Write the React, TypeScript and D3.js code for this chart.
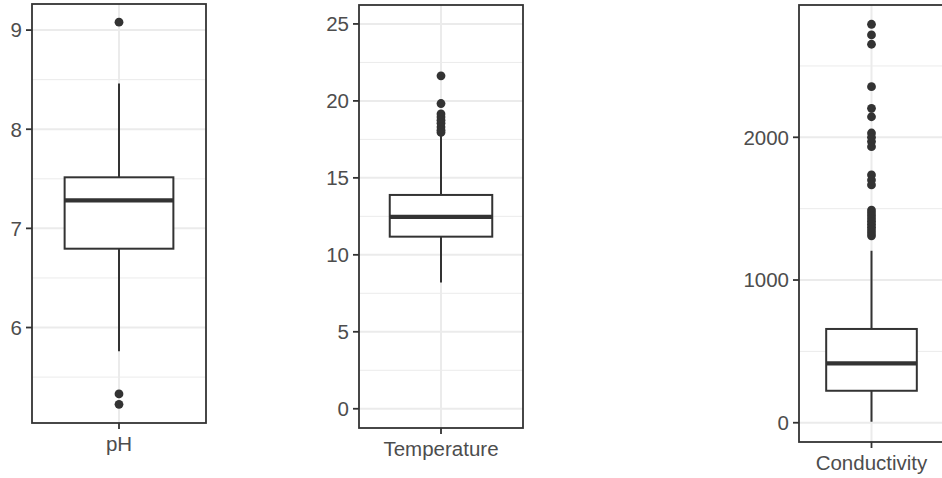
import React from "react";
import * as d3 from "d3";

// Variable names shown under each panel
const variables = ["pH", "Temperature", "Conductivity"];

// Five-number box summaries: [lower whisker, Q1, median, Q3, upper whisker]
const phStats = [5.76, 6.795, 7.283, 7.515, 8.46];
const temperatureStats = [8.2, 11.18, 12.46, 13.89, 17.75];
const conductivityStats = [7, 224, 416, 657, 1205];

// Outlying observations
const phOutliers = [9.08, 5.33, 5.225];
const temperatureOutliers = [21.63, 19.83, 19.15, 18.95, 18.75, 18.55, 18.3, 18.1, 17.95];
const conductivityOutliers = [
  2792, 2717, 2652, 2355, 2203, 2144, 2030, 2000, 1970, 1934, 1736, 1700, 1666,
  1490, 1470, 1450, 1430, 1410, 1390, 1370, 1350, 1330, 1310,
];

// Axis ticks
const phTicks = [6, 7, 8, 9];
const phMinor = [5.5, 6.5, 7.5, 8.5];
const temperatureTicks = [0, 5, 10, 15, 20, 25];
const temperatureMinor = [2.5, 7.5, 12.5, 17.5, 22.5];
const conductivityTicks = [0, 1000, 2000];
const conductivityMinor = [500, 1500, 2500];

type PanelSpec = {
  name: string;
  stats: number[];
  outliers: number[];
  ticks: number[];
  minor: number[];
  domain: [number, number];
  x0: number;
  x1: number;
  y0: number;
  y1: number;
};

const panels: PanelSpec[] = [
  { name: variables[0], stats: phStats, outliers: phOutliers, ticks: phTicks, minor: phMinor,
    domain: [5.037, 9.263], x0: 32, x1: 206, y0: 4, y1: 423 },
  { name: variables[1], stats: temperatureStats, outliers: temperatureOutliers, ticks: temperatureTicks,
    minor: temperatureMinor, domain: [-1.25, 26.23], x0: 359, x1: 523, y0: 5, y1: 428 },
  { name: variables[2], stats: conductivityStats, outliers: conductivityOutliers, ticks: conductivityTicks,
    minor: conductivityMinor, domain: [-135, 2927], x0: 799, x1: 944, y0: 5, y1: 442 },
];

const INK = "#333333";
const GRID = "#EBEBEB";
const LABEL = "#4D4D4D";
const FONT = "'Liberation Sans', Arial, sans-serif";

function Panel({ p }: { p: PanelSpec }) {
  const y = d3.scaleLinear().domain(p.domain).range([p.y1, p.y0]);
  // discrete axis with 0.6 expansion each side; boxes are 0.75 units wide
  const x = d3.scaleLinear().domain([0.4, 1.6]).range([p.x0, p.x1]);
  const span = p.x1 - p.x0;
  const cx = x(1);
  const left = x(1 - 0.375);
  const right = x(1 + 0.375);
  const [lo, q1, med, q3, hi] = p.stats;
  const clipId = `clip-${p.name}`;
  return (
    <g>
      <defs>
        <clipPath id={clipId}>
          <rect x={p.x0} y={p.y0} width={span} height={p.y1 - p.y0} />
        </clipPath>
      </defs>
      <g clipPath={`url(#${clipId})`}>
        <rect x={p.x0} y={p.y0} width={span} height={p.y1 - p.y0} fill="white" />
        {p.minor.map((v) => (
          <line key={`m${v}`} x1={p.x0} x2={p.x1} y1={y(v)} y2={y(v)} stroke={GRID} strokeWidth={1} />
        ))}
        {p.ticks.map((v) => (
          <line key={`g${v}`} x1={p.x0} x2={p.x1} y1={y(v)} y2={y(v)} stroke={GRID} strokeWidth={2} />
        ))}
        <line x1={cx} x2={cx} y1={p.y0} y2={p.y1} stroke={GRID} strokeWidth={2} />
        <line x1={cx} x2={cx} y1={y(hi)} y2={y(q3)} stroke={INK} strokeWidth={2} />
        <line x1={cx} x2={cx} y1={y(q1)} y2={y(lo)} stroke={INK} strokeWidth={2} />
        <rect x={left} y={y(q3)} width={right - left} height={y(q1) - y(q3)} fill="white" stroke={INK} strokeWidth={2} />
        <line x1={left} x2={right} y1={y(med)} y2={y(med)} stroke={INK} strokeWidth={4.3} />
        {p.outliers.map((v, i) => (
          <circle key={`o${i}`} cx={cx} cy={y(v)} r={4.4} fill={INK} />
        ))}
      </g>
      <rect x={p.x0} y={p.y0} width={span} height={p.y1 - p.y0} fill="none" stroke={INK} strokeWidth={1.8} />
      {p.ticks.map((v) => (
        <g key={`t${v}`}>
          <line x1={p.x0 - 6} x2={p.x0} y1={y(v)} y2={y(v)} stroke={INK} strokeWidth={1.8} />
          <text x={p.x0 - 10} y={y(v)} dy="0.36em" textAnchor="end" fontSize={20.5} fill={LABEL} fontFamily={FONT}>
            {v}
          </text>
        </g>
      ))}
      <line x1={cx} x2={cx} y1={p.y1} y2={p.y1 + 6} stroke={INK} strokeWidth={1.8} />
      <text x={cx} y={p.y1 + 28} textAnchor="middle" fontSize={20.5} fill={LABEL} fontFamily={FONT}>
        {p.name}
      </text>
    </g>
  );
}

export default function App() {
  return (
    <svg width={942} height={478} style={{ display: "block", position: "absolute", left: 0, top: 0 }}>
      <rect width={942} height={478} fill="white" />
      {panels.map((p) => (
        <Panel key={p.name} p={p} />
      ))}
    </svg>
  );
}
